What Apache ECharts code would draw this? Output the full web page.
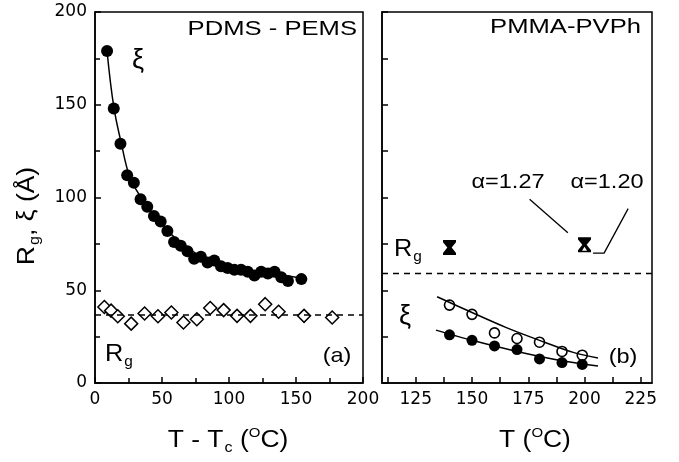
<!DOCTYPE html>
<html>
<head>
<meta charset="utf-8">
<script src="https://cdn.jsdelivr.net/npm/echarts@6/dist/echarts.min.js"></script>
<style>
  html, body { margin: 0; padding: 0; background: #fff; }
  #chart { width: 679px; height: 462px; }
</style>
</head>
<body>
<div id="chart"></div>
<script>
// panel (a): PDMS - PEMS, x = T - Tc
const xiX = [9, 14, 19, 24, 29, 34, 39, 44, 49, 54, 59, 64, 69, 74, 79, 84, 89, 94, 99, 104, 109, 114, 119, 124, 129, 134, 139, 144, 154]
const xiY = [179, 148, 129, 112, 108, 99, 95, 90, 87, 82, 76, 74, 71, 67, 68, 65, 66, 63, 62, 61, 61, 60, 58, 60, 59, 60, 57, 55, 56]
const xiFitX = [9, 14, 20, 25, 30, 40, 50, 60, 75, 90, 110, 130, 150, 155]
const xiFitY = [179, 149, 128, 113, 105, 94, 86, 78, 70, 65, 61, 59, 57, 56]
const rgX = [7, 12, 17, 27, 37, 47, 57, 66, 76, 86, 96, 106, 116, 127, 137, 156, 177]
const rgY = [41, 39, 36, 32, 37.5, 36, 38, 32.6, 34.4, 40.4, 39.3, 36.2, 36.2, 42.5, 38.4, 36.2, 35.3]
const rgLevelA = 36.6

// panel (b): PMMA-PVPh, x = T
const tB = [140, 150, 160, 170, 180, 190, 199]
const xiOpen = [42, 37, 27, 24, 22, 17, 15]
const xiFilled = [26, 23, 20, 18, 13, 11, 10]
const openFitX = [134.5, 150, 165, 180, 195, 206]
const openFitY = [46.5, 38, 30, 23, 16.5, 13.5]
const filledFitX = [134, 150, 170, 190, 206]
const filledFitY = [28.5, 23, 17, 12, 9.2]
const rgB = [[140, 73], [200, 74.5]]
const rgLevelB = 59
const xLabelsB = [125, 150, 175, 200, 225]
const xTicksB = [112.5, 125, 137.5, 150, 162.5, 175, 187.5, 200, 212.5, 225]

const zip = (a, b) => a.map((v, i) => [v, b[i]])
const FONT = 'DejaVu Sans'
const SANS = 'Liberation Sans'

var myChart = echarts.init(document.getElementById('chart'), null, { renderer: 'canvas' })

const hourglass = 'path://M0,0H12V2L8,7L12,12V14H0V12L4,7L0,2Z'
const tickStyle = { color: '#000', width: 1.5 }

const yAxisBase = {
    type: 'value', min: 0, max: 200,
    splitLine: { show: false },
    axisLine: { show: true, lineStyle: { color: '#000', width: 1.5 } },
    axisTick: { inside: true, length: 6, lineStyle: tickStyle }
}

// text helper: plain label with optional horizontal stretch
function label(x, y, text, size, align, sx) {
    return {
        type: 'text', x: x, y: y, scaleX: sx || 1,
        style: { text: text, fontFamily: SANS, fontSize: size, fill: '#000', align: align, verticalAlign: 'middle' }
    }
}
const richN = { fontFamily: SANS, fontSize: 23 }
const richSub = { fontFamily: SANS, fontSize: 14, padding: [15, 0, 0, 1] }
const richSup = { fontFamily: SANS, fontSize: 13, padding: [0, 0, 15, 0] }

let option = {
    animation: false,
    backgroundColor: '#fff',
    grid: [
        { left: 95, top: 12, width: 268, height: 371, show: true, borderColor: '#000', borderWidth: 1.5 },
        { left: 382, top: 12, width: 270, height: 371, show: true, borderColor: '#000', borderWidth: 1.5 }
    ],
    xAxis: [
        {
            type: 'value', gridIndex: 0, min: 0, max: 200, interval: 50,
            splitLine: { show: false },
            axisLine: { lineStyle: { color: '#000', width: 1.5 } },
            axisTick: { inside: true, length: 6, lineStyle: tickStyle },
            minorTick: { show: true, splitNumber: 2, length: 5, lineStyle: tickStyle },
            axisLabel: { color: '#000', fontSize: 17, fontFamily: FONT, margin: 8 }
        },
        {
            type: 'value', gridIndex: 1, min: 110, max: 230,
            splitLine: { show: false },
            axisLine: { lineStyle: { color: '#000', width: 1.5 } },
            axisTick: { inside: true, length: 6, customValues: xTicksB, lineStyle: tickStyle },
            axisLabel: { color: '#000', fontSize: 17, fontFamily: FONT, margin: 8, customValues: xLabelsB }
        }
    ],
    yAxis: [
        Object.assign({}, yAxisBase, {
            gridIndex: 0, interval: 50,
            minorTick: { show: true, splitNumber: 2, length: 5, lineStyle: tickStyle },
            axisLabel: { color: '#000', fontSize: 17, fontFamily: FONT, margin: 8 }
        }),
        Object.assign({}, yAxisBase, {
            gridIndex: 1, interval: 25,
            axisLabel: { show: false }
        })
    ],
    series: [
        {
            name: 'xi fit a', type: 'line', xAxisIndex: 0, yAxisIndex: 0,
            data: zip(xiFitX, xiFitY), smooth: 0.4, showSymbol: false,
            lineStyle: { color: '#000', width: 1.5 }
        },
        {
            name: 'xi a', type: 'scatter', xAxisIndex: 0, yAxisIndex: 0,
            data: zip(xiX, xiY), symbol: 'circle', symbolSize: 12,
            itemStyle: { color: '#000', opacity: 1 }
        },
        {
            name: 'Rg level a', type: 'line', xAxisIndex: 0, yAxisIndex: 0,
            data: [[0, rgLevelA], [200, rgLevelA]], showSymbol: false,
            lineStyle: { color: '#000', width: 1.5, type: [6, 5] }
        },
        {
            name: 'Rg a', type: 'scatter', xAxisIndex: 0, yAxisIndex: 0,
            data: zip(rgX, rgY), symbol: 'diamond', symbolSize: [13, 13],
            itemStyle: { color: '#fff', borderColor: '#000', borderWidth: 1.5, opacity: 1 }
        },
        {
            name: 'Rg level b', type: 'line', xAxisIndex: 1, yAxisIndex: 1,
            data: [[110, rgLevelB], [230, rgLevelB]], showSymbol: false,
            lineStyle: { color: '#000', width: 1.5, type: [6, 5] }
        },
        {
            name: 'open fit', type: 'line', xAxisIndex: 1, yAxisIndex: 1,
            data: zip(openFitX, openFitY), smooth: 0.3, showSymbol: false,
            lineStyle: { color: '#000', width: 1.5 }
        },
        {
            name: 'filled fit', type: 'line', xAxisIndex: 1, yAxisIndex: 1,
            data: zip(filledFitX, filledFitY), smooth: 0.3, showSymbol: false,
            lineStyle: { color: '#000', width: 1.5 }
        },
        {
            name: 'xi open', type: 'scatter', xAxisIndex: 1, yAxisIndex: 1,
            data: zip(tB, xiOpen), symbol: 'circle', symbolSize: 10,
            itemStyle: { color: '#fff', borderColor: '#000', borderWidth: 1.6, opacity: 1 }
        },
        {
            name: 'xi filled', type: 'scatter', xAxisIndex: 1, yAxisIndex: 1,
            data: zip(tB, xiFilled), symbol: 'circle', symbolSize: 11,
            itemStyle: { color: '#000', opacity: 1 }
        },
        {
            name: 'Rg b', type: 'scatter', xAxisIndex: 1, yAxisIndex: 1,
            data: rgB, symbol: hourglass, symbolSize: [13, 15],
            itemStyle: { color: '#000', opacity: 1 }
        },
        {
            name: 'Rg b open', type: 'scatter', xAxisIndex: 1, yAxisIndex: 1,
            data: [rgB[1]], symbol: 'triangle', symbolSize: [5, 4], symbolOffset: [0, 4],
            itemStyle: { color: '#fff', opacity: 1 }
        },
        {
            name: 'leader 1', type: 'line', xAxisIndex: 1, yAxisIndex: 1,
            data: [[175.6, 99], [192.6, 81]], showSymbol: false,
            lineStyle: { color: '#000', width: 1.3 }
        },
        {
            name: 'leader 2', type: 'line', xAxisIndex: 1, yAxisIndex: 1,
            data: [[219.4, 94], [208.7, 70], [203.8, 70]], showSymbol: false,
            lineStyle: { color: '#000', width: 1.3 }
        }
    ],
    graphic: [
        label(357, 29, 'PDMS - PEMS', 21, 'right', 1.22),
        label(138, 61, 'ξ', 27, 'center'),
        {
            type: 'text', x: 105, y: 340, scaleX: 1.1,
            style: { text: '{n|R}{s|g}', fill: '#000', align: 'left', verticalAlign: 'top', rich: { n: richN, s: richSub } }
        },
        label(337, 356, '(a)', 21, 'center', 1.12),
        label(641, 27, 'PMMA-PVPh', 21, 'right', 1.22),
        label(508, 182, 'α=1.27', 21, 'center', 1.12),
        label(607, 182, 'α=1.20', 21, 'center', 1.12),
        {
            type: 'text', x: 394, y: 235, scaleX: 1.1,
            style: { text: '{n|R}{s|g}', fill: '#000', align: 'left', verticalAlign: 'top', rich: { n: richN, s: richSub } }
        },
        label(405, 317, 'ξ', 27, 'center'),
        label(623, 357, '(b)', 21, 'center', 1.12),
        {
            type: 'text', x: 28, y: 216, rotation: Math.PI / 2, scaleX: 1.15,
            style: { text: '{n|R}{s|g}{n|, ξ (Å)}', fill: '#000', align: 'center', verticalAlign: 'middle', rich: { n: richN, s: richSub } }
        },
        {
            type: 'text', x: 228, y: 441, scaleX: 1.15,
            style: { text: '{n|T - T}{s|c}{n| (}{p|O}{n|C)}', fill: '#000', align: 'center', verticalAlign: 'middle', rich: { n: richN, s: richSub, p: richSup } }
        },
        {
            type: 'text', x: 535, y: 441, scaleX: 1.15,
            style: { text: '{n|T (}{p|O}{n|C)}', fill: '#000', align: 'center', verticalAlign: 'middle', rich: { n: richN, p: richSup } }
        }
    ]
};

option && myChart.setOption(option);
</script>
</body>
</html>
